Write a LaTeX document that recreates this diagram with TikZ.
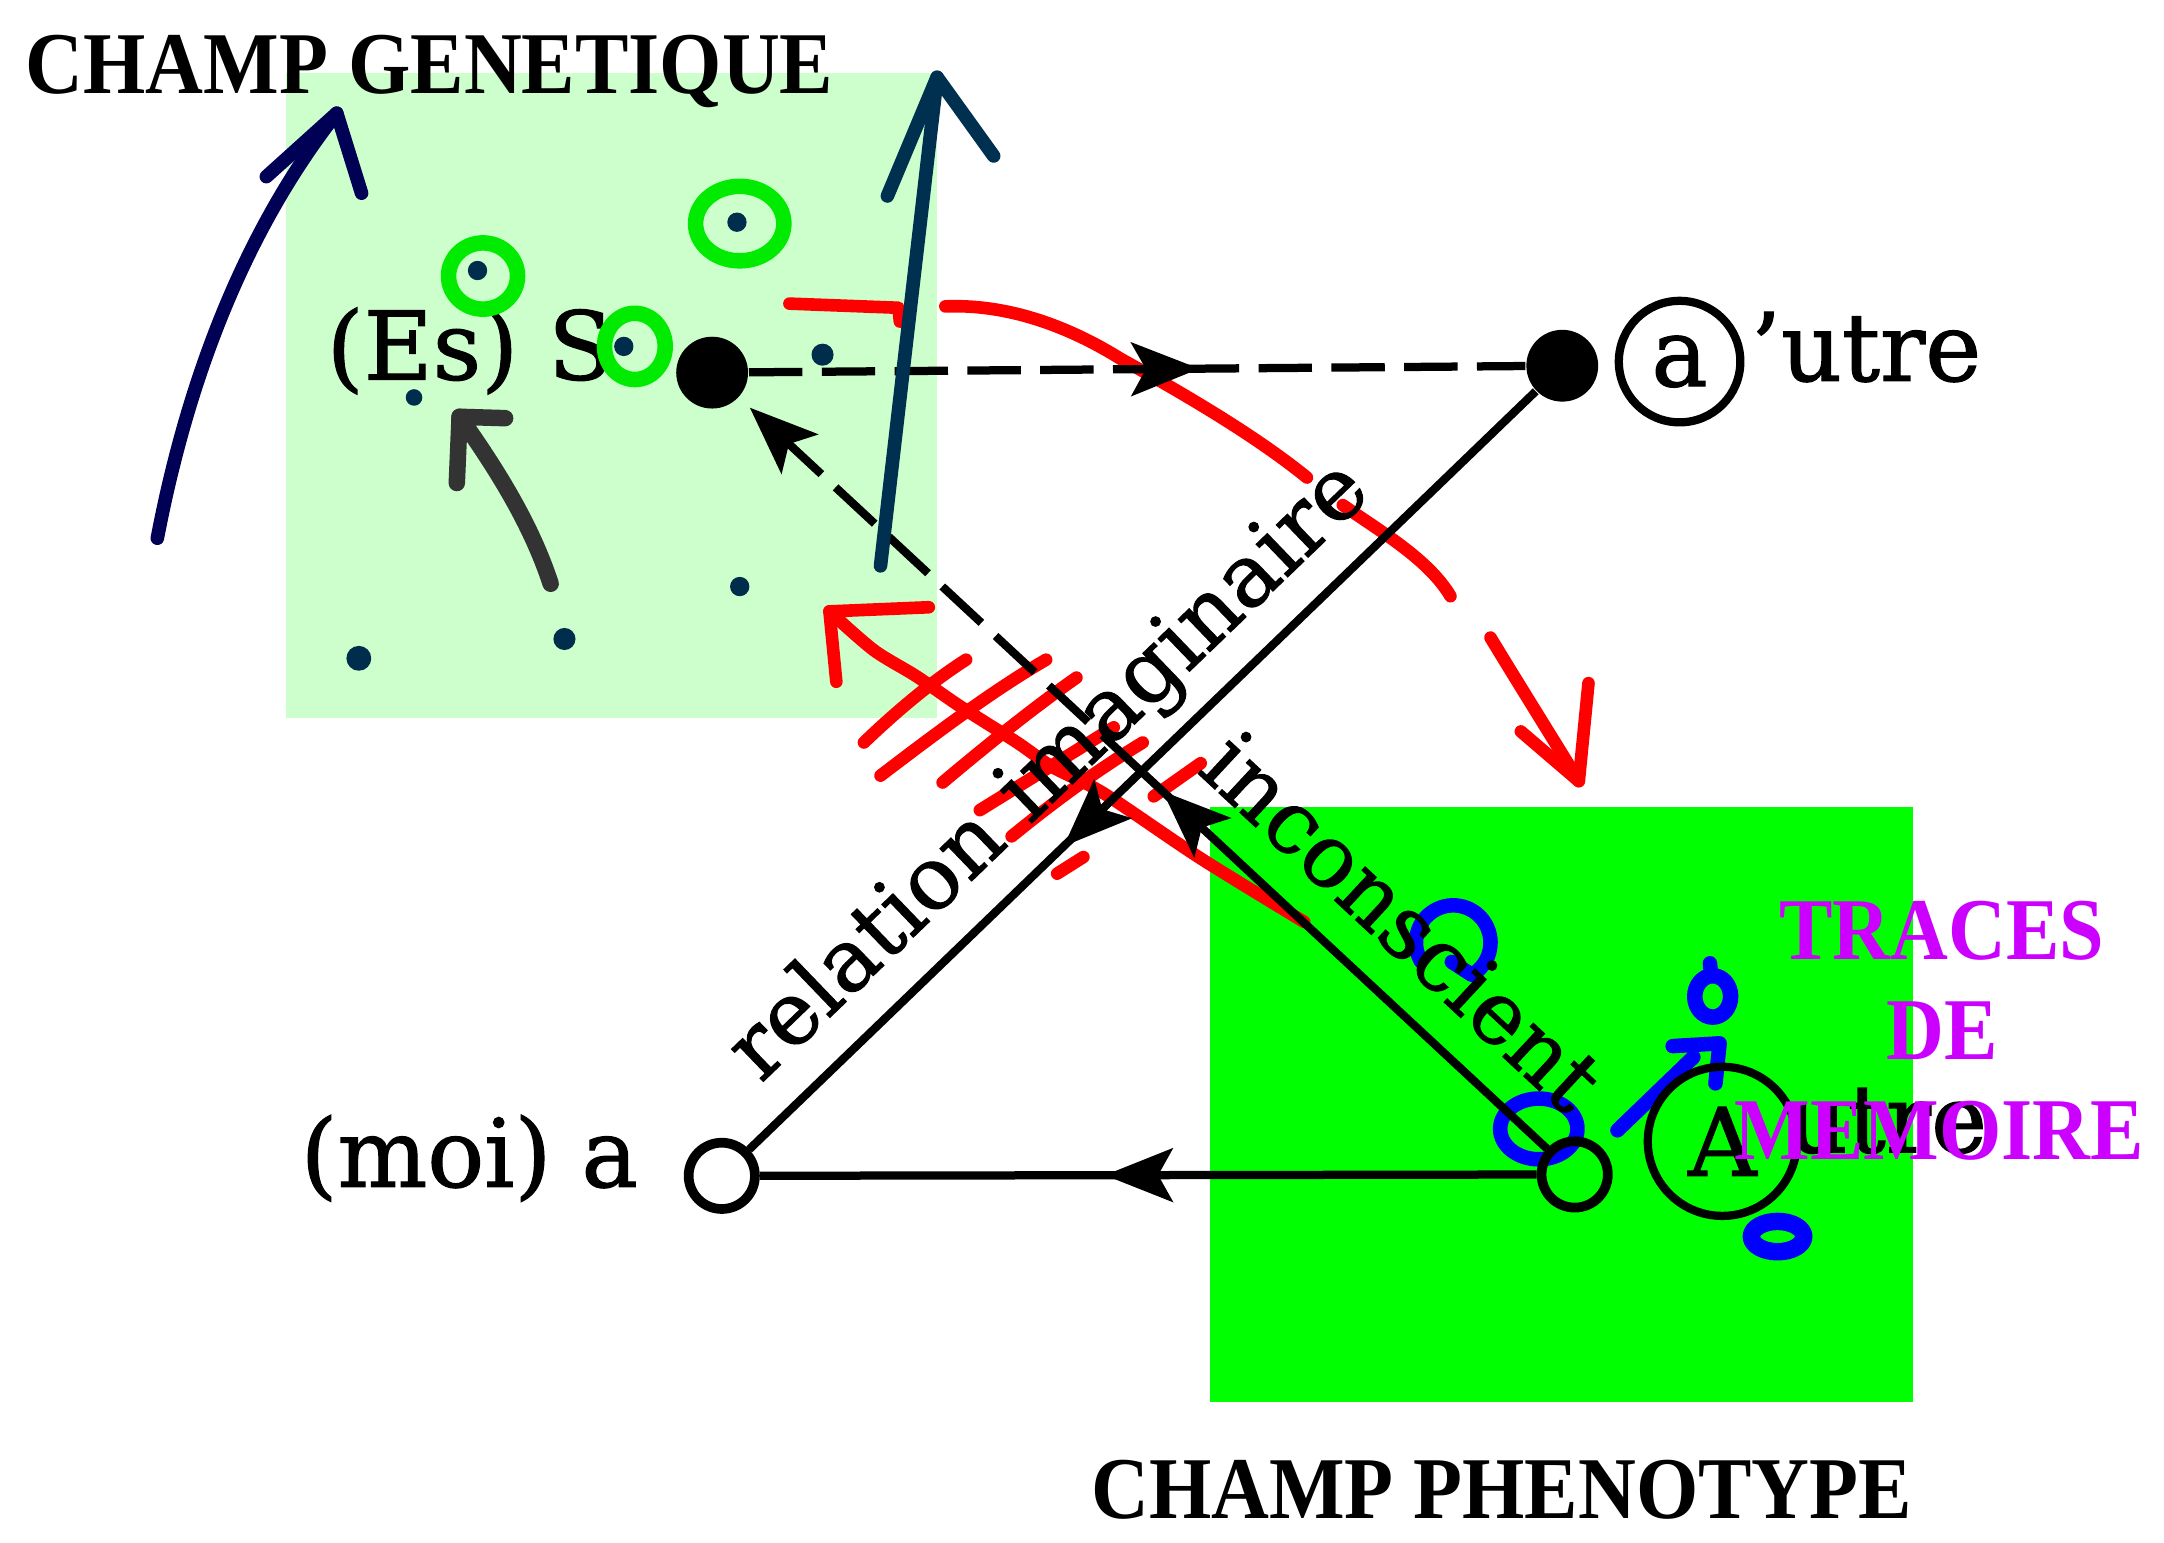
\documentclass[tikz,border=0pt]{standalone}
\usepackage{fontspec}
\setmainfont{Liberation Serif}
\newfontfamily\lacanfont[FakeBold=1.2]{DejaVu Serif}
\usetikzlibrary{arrows.meta,decorations.markings}
\definecolor{lgreen}{RGB}{204,255,204}
\definecolor{bgreen}{RGB}{0,255,0}
\definecolor{ringgreen}{RGB}{0,235,0}
\definecolor{navyA}{RGB}{0,0,85}
\definecolor{navyB}{RGB}{0,48,80}
\definecolor{dotnavy}{RGB}{0,45,75}
\definecolor{grayarr}{RGB}{51,51,51}
\definecolor{purp}{RGB}{204,0,255}
\definecolor{redmark}{RGB}{255,0,0}
\definecolor{bluemark}{RGB}{0,0,255}
\begin{document}
\begin{tikzpicture}[x=0.01cm,y=-0.01cm,
  >={Stealth[length=14pt,width=11pt,inset=3pt]},
  blk/.style={line width=1.7pt, draw=black},
  dashln/.style={dash pattern=on 11pt off 4pt},
  midarrow/.style={postaction={decorate}, decoration={markings, mark=at position #1 with {\arrow{>}}}},
  hand/.style={line cap=round, line join=round},
  redln/.style={hand, draw=redmark, line width=2.6pt},
  bluln/.style={hand, draw=bluemark, line width=3pt},
  ringln/.style={hand, draw=ringgreen, line width=3.2pt},
  navyln/.style={hand, line width=2.8pt},
  dotf/.style={circle, fill=black, inner sep=0pt, minimum size=0.52cm},
  opc/.style={circle, draw=black, line width=2pt, inner sep=0pt, minimum size=0.48cm},
  lbl/.style={font={\lacanfont\fontsize{19.5}{22}\selectfont}, inner sep=0pt},
  lbltwo/.style={font={\lacanfont\fontsize{18}{20}\selectfont}, inner sep=0pt},
  ttl/.style={font={\bfseries\fontsize{16.5}{19}\selectfont}, inner sep=0pt, yscale=1.1}
]
\useasboundingbox (0,0) rectangle (1568,1118);
\fill[white] (0,0) rectangle (1568,1118);
% background fields
\fill[lgreen] (207,53) rectangle (679,520);
\fill[bgreen] (877,585) rectangle (1386,1016);

% red annotations (under the schema)
\draw[redln] (572,220) -- (651,223) -- (652,233);
\draw[redln] (685,222) .. controls (735,220) and (780,240) .. (812,260) .. controls (870,292) and (915,320) .. (947,346);
\draw[redln] (973,366) .. controls (1000,385) and (1035,405) .. (1051,432);
\draw[redln] (1080,462) .. controls (1100,495) and (1125,535) .. (1144,566);
\draw[redln] (1102,530) -- (1144,566) -- (1151,495);
\draw[redln] plot[smooth] coordinates {(945,668) (870,622) (800,575) (763,556) (737,538) (696,512) (664,490) (633,471) (601,443)};
\draw[redln] (673,440) -- (601,443) -- (606,494);
\draw[redln] (626,538) .. controls (650,515) and (675,494) .. (700,478);
\draw[redln] (638,562) .. controls (680,530) and (720,500) .. (758,478);
\draw[redln] (683,567) .. controls (715,540) and (750,512) .. (780,491);
\draw[redln] (733,606) .. controls (765,580) and (795,558) .. (828,538);
\draw[redln] (836,577) -- (870,553);
\draw[redln] (710,587) -- (807,527);
\draw[redln] (766,633) -- (785,621);

% blue annotations
\draw[bluln] (1053,683) ++(150:27) arc[start angle=150, end angle=420, radius=27] -- (1052,697);
\draw[bluln] (1115,818) ellipse[x radius=28, y radius=22];
\draw[bluln] (1172,819) -- (1227,766);
\draw[bluln] (1212,758) -- (1246,756) -- (1243,785);
\draw[bluln, line width=3.2pt] (1241,722) ellipse[x radius=13, y radius=15];
\draw[bluln] (1240,707) -- (1239,698);
\draw[bluln, line width=3.6pt] (1288,896) ellipse[x radius=19, y radius=11];

% schema nodes
\node[dotf] (S) at (516,270) {};
\node[dotf] (ap) at (1132,265) {};
\node[opc] (moi) at (523,852) {};
\node[opc] (A) at (1141,851) {};
\coordinate (X) at (827,559);

% connectors
\draw[blk, dashln, midarrow=0.58] (S) -- (ap);
\draw[blk, midarrow=0.6] (ap) -- (moi);
\draw[blk, midarrow=0.556] (A) -- (moi);
\draw[blk, midarrow=0.95] (A) -- (X);
\draw[blk, dashln, ->, shorten >=3pt] (X) -- (S);

% labels
\node[lbl, anchor=base east] (es) at (445,275) {(Es) S};
\node[lbl, anchor=base east] (moil) at (463,860) {(moi) a};
\node[lbl, circle, draw, line width=1.7pt, minimum size=0.88cm] (ac) at (1217,262) {a};
\node[lbl, anchor=base west] (utreone) at (1268,276) {’utre};
\node[lbl, circle, draw, line width=1.7pt, minimum size=1.08cm] (Ac) at (1248,827) {A};
\node[lbl, anchor=base west] (utretwo) at (1294,835) {utre};
\node[lbltwo, rotate=43.9, anchor=base] (rel) at (773,572) {relation imaginaire};
\node[lbltwo, rotate=-42.9, anchor=base] (inc) at (1001,684) {inconscient};

% titles
\node[ttl, anchor=base west] (tone) at (18,68) {CHAMP GENETIQUE};
\node[ttl, anchor=base west] (ttwo) at (790,1100) {CHAMP PHENOTYPE};
\node[ttl, text=purp, anchor=base] (trone) at (1407,695) {TRACES};
\node[ttl, text=purp, anchor=base] (trtwo) at (1407,768) {DE};
\node[ttl, text=purp, anchor=base] (trthree) at (1405,840) {MEMOIRE};

% navy arrows
\draw[navyA, navyln] (114,390) .. controls (135,280) and (175,170) .. (244,82);
\draw[navyA, navyln] (193,128) -- (244,82) -- (262,140);
\draw[navyB, navyln] (638,410) -- (679,56);
\draw[navyB, navyln] (643,142) -- (679,56) -- (720,113);
% gray arrow
\draw[grayarr, hand, line width=3.4pt] (399,423) .. controls (385,380) and (360,340) .. (333,302);
\draw[grayarr, hand, line width=3.4pt] (331,350) -- (333,302) -- (366,303);

% green rings
\draw[ringln] (350,200) ellipse[x radius=25, y radius=24];
\draw[ringln] (536,162) ellipse[x radius=32, y radius=27];
\draw[ringln] (460,251) ellipse[x radius=22, y radius=24];

% navy dots
\fill[dotnavy] (346,196) circle[radius=7];
\fill[dotnavy] (534,161) circle[radius=7];
\fill[dotnavy] (452,251) circle[radius=7];
\fill[dotnavy] (300,288) circle[radius=6];
\fill[dotnavy] (596,257) circle[radius=8];
\fill[dotnavy] (536,425) circle[radius=7];
\fill[dotnavy] (409,463) circle[radius=8];
\fill[dotnavy] (260,477) circle[radius=9];
\end{tikzpicture}
\end{document}
